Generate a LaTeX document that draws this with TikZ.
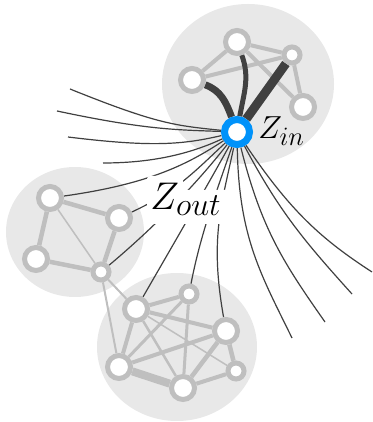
\documentclass[tikz,border=0pt]{standalone}
\usepackage{tikz}
\usetikzlibrary{positioning}
\definecolor{zblue}{RGB}{0,146,250}
\pgfdeclarelayer{back}
\pgfdeclarelayer{edges}
\pgfsetlayers{back,edges,main}

\begin{document}
\begin{tikzpicture}[x=1pt, y=1pt,
    bignode/.style={circle, draw=black!25, line width=5pt, fill=white, minimum size=23pt, inner sep=0pt},
    smallnode/.style={bignode, minimum size=16pt},
    hub/.style={circle, draw=zblue, line width=7pt, fill=white, minimum size=25pt, inner sep=0pt},
    blob/.style={fill=black!9},
    gedge/.style={draw=black!25, line width=4pt},
    feed/.style={draw=black!75},
    fanline/.style={draw=black!75, line width=1.2pt},
    zlabel/.style={font=\Huge, inner sep=0pt, anchor=base west}]
    \useasboundingbox (0,0) rectangle (372,422);

    % groups
    \node[bignode] (top1) at (192,342) {};
    \node[bignode] (top2) at (237,380) {};
    \node[smallnode] (top3) at (292,367) {};
    \node[bignode] (top4) at (303,315) {};
    \node[hub] (zin) at (237,290) {};

    \node[bignode] (left1) at (50,224) {};
    \node[bignode] (left2) at (119,204) {};
    \node[bignode] (left3) at (36,163) {};
    \node[smallnode] (left4) at (101,150) {};

    \node[bignode] (low1) at (136,113) {};
    \node[smallnode] (low2) at (189,128) {};
    \node[bignode] (low3) at (226,91) {};
    \node[bignode] (low4) at (119,55) {};
    \node[bignode] (low5) at (183,34) {};
    \node[smallnode] (low6) at (236,51) {};

    % free ends of the fan
    \coordinate (west1) at (70,333);
    \coordinate (west2) at (57,311);
    \coordinate (west3) at (68,285);
    \coordinate (west4) at (103,259);
    \coordinate (east1) at (292,84);
    \coordinate (east2) at (325,100);
    \coordinate (east3) at (352,128);
    \coordinate (east4) at (372,150);

    \begin{pgfonlayer}{back}
        \fill[blob] (248,338) ellipse [x radius=86pt, y radius=80pt];
        \fill[blob] (75,190) ellipse [x radius=69pt, y radius=65pt];
        \fill[blob] (177,75) ellipse [x radius=80pt, y radius=74pt];
    \end{pgfonlayer}

    \begin{pgfonlayer}{edges}
        \draw[gedge] (top1) -- (top2);
        \draw[gedge] (top1) -- (top3);
        \draw[gedge] (top2) -- (top3);
        \draw[gedge] (top2) -- (top4);
        \draw[gedge] (top3) -- (top4);

        \draw[gedge, line width=4.5pt] (left1) -- (left2);
        \draw[gedge, line width=4.5pt] (left1) -- (left3);
        \draw[gedge, line width=4.5pt] (left3) -- (left4);
        \draw[gedge, line width=4.5pt] (left2) -- (left4);
        \draw[gedge, line width=1.5pt] (left1) -- (left4);

        \draw[gedge] (low1) -- (low2);
        \draw[gedge] (low1) -- (low3);
        \draw[gedge] (low1) -- (low4);
        \draw[gedge, line width=2.5pt] (low1) -- (low5);
        \draw[gedge, line width=1.5pt] (low1) -- (low6);
        \draw[gedge, line width=3pt] (low2) -- (low4);
        \draw[gedge, line width=3pt] (low2) -- (low5);
        \draw[gedge] (low4) -- (low3);
        \draw[gedge, line width=8pt] (low4) -- (low5);
        \draw[gedge, line width=4.5pt] (low5) -- (low3);
        \draw[gedge] (low5) -- (low6);
        \draw[gedge, line width=4.5pt] (low3) -- (low6);
        \draw[gedge, line width=2pt] (left4) -- (low4);
        \draw[gedge, line width=2pt] (left4) -- (low1);

        \draw[feed, line width=7pt] (top1) to[out=-20, in=110] (zin);
        \draw[feed, line width=5pt] (top2) to[out=-70, in=80] (zin);
        \draw[feed, line width=9pt] (top3) -- (zin);

        \draw[fanline] (zin) to[out=174, in=-22, out distance=45pt, in distance=95pt] (west1);
        \draw[fanline] (zin) to[out=178, in=-12, out distance=45pt, in distance=90pt] (west2);
        \draw[fanline] (zin) to[out=193, in=-7, out distance=40pt, in distance=85pt] (west3);
        \draw[fanline] (zin) to[out=205, in=0, out distance=35pt, in distance=50pt] (west4);
        \draw[fanline] (zin) to[out=213, in=8, out distance=40pt, in distance=90pt] (left1);
        \draw[fanline] (zin) to[out=223, in=25, out distance=45pt, in distance=50pt] (left2);
        \draw[fanline] (zin) to[out=232, in=40, out distance=50pt, in distance=60pt] (left4);
        \draw[fanline] (zin) to[out=241, in=60, out distance=50pt, in distance=60pt] (low1);
        \draw[fanline] (zin) to[out=251, in=79, out distance=50pt, in distance=50pt] (low2);
        \draw[fanline] (zin) to[out=258, in=100, out distance=60pt, in distance=80pt] (low3);
        \draw[fanline] (zin) to[out=271, in=116, out distance=90pt, in distance=70pt] (east1);
        \draw[fanline] (zin) to[out=284, in=125, out distance=85pt, in distance=70pt] (east2);
        \draw[fanline] (zin) to[out=298, in=132, out distance=75pt, in distance=70pt] (east3);
        \draw[fanline] (zin) to[out=304, in=147, out distance=80pt, in distance=60pt] (east4);
    \end{pgfonlayer}

    % labels
    \fill[white, rounded corners=3pt] (147,246) -- (183,246) -- (183,232) -- (230,232) -- (230,198) -- (147,198) -- cycle;
    \node[zlabel, right=5pt of zin, anchor=base west, yshift=-7pt, scale=1.28] (zinlabel) {$Z_{in}$};
    \node[zlabel, scale=1.55] (zoutlabel) at (150,212.5) {$Z_{out}$};
\end{tikzpicture}
\end{document}
